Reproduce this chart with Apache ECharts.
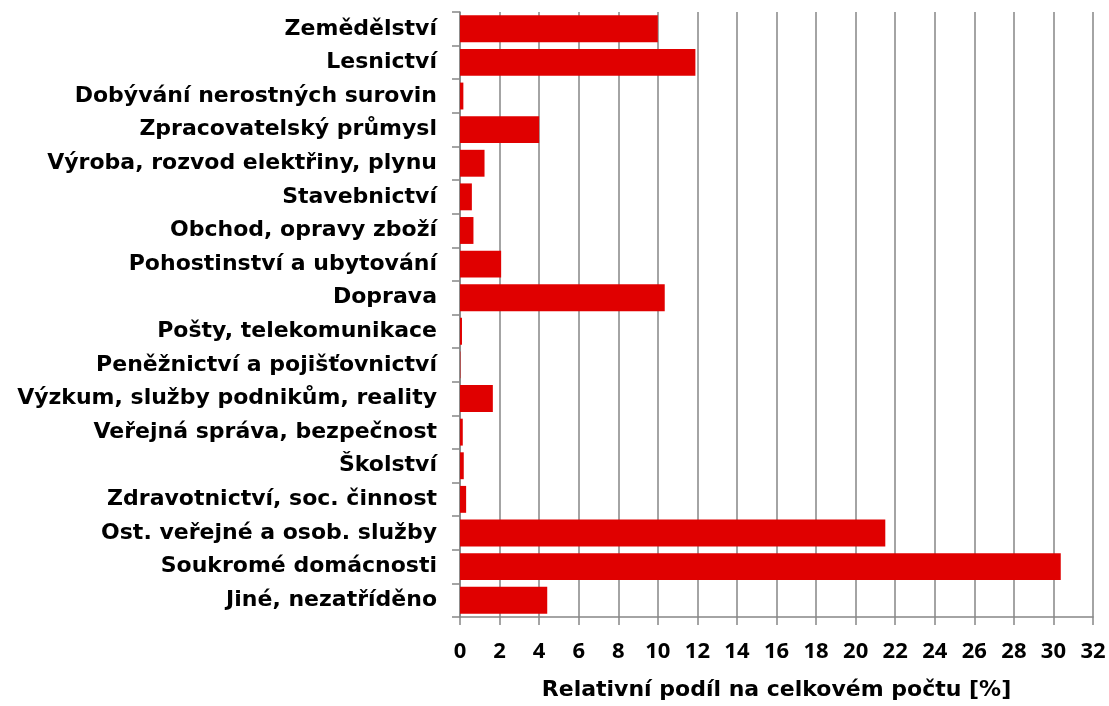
<!DOCTYPE html>
<html>
<head>
<meta charset="utf-8">
<script src="https://cdn.jsdelivr.net/npm/echarts@6/dist/echarts.min.js"></script>
<style>html,body{margin:0;padding:0;background:#fff}#c{width:1109px;height:706px}</style>
</head>
<body>
<div id="c"></div>
<script>
const categories = [
  "Zemědělství",
  "Lesnictví",
  "Dobývání nerostných surovin",
  "Zpracovatelský průmysl",
  "Výroba, rozvod elektřiny, plynu",
  "Stavebnictví",
  "Obchod, opravy zboží",
  "Pohostinství a ubytování",
  "Doprava",
  "Pošty, telekomunikace",
  "Peněžnictví a pojišťovnictví",
  "Výzkum, služby podnikům, reality",
  "Veřejná správa, bezpečnost",
  "Školství",
  "Zdravotnictví, soc. činnost",
  "Ost. veřejné a osob. služby",
  "Soukromé domácnosti",
  "Jiné, nezatříděno"
];
const values = [10.0, 11.9, 0.17, 4.0, 1.24, 0.6, 0.68, 2.08, 10.35, 0.1, 0.02, 1.66, 0.14, 0.19, 0.31, 21.5, 30.37, 4.41];
const axisTitle = "Relativní podíl na celkovém počtu [%]";

const chart = echarts.init(document.getElementById('c'), null, {renderer: 'canvas'});
chart.setOption({
  animation: false,
  backgroundColor: '#ffffff',
  grid: {left: 460, right: 16, top: 12, bottom: 89, containLabel: false, outerBoundsMode: 'none'},
  xAxis: {
    type: 'value', min: 0, max: 32, interval: 2,
    name: axisTitle, nameLocation: 'middle', nameGap: 62, nameMoveOverlap: false,
    nameTextStyle: {fontFamily: 'DejaVu Sans', fontWeight: 'bold', fontSize: 22, color: '#000'},
    axisLine: {show: true, lineStyle: {color: '#868686', width: 1.5}},
    axisTick: {show: true, length: 8, lineStyle: {color: '#868686', width: 1.5}},
    axisLabel: {margin: 24, fontFamily: 'Open Sans', fontWeight: 'bold', fontSize: 22, color: '#000', hideOverlap: false},
    splitLine: {show: true, lineStyle: {color: '#868686', width: 1.5}}
  },
  yAxis: {
    type: 'category', data: categories, inverse: true,
    axisLine: {show: true, lineStyle: {color: '#868686', width: 1.5}},
    axisTick: {show: true, length: 8, alignWithLabel: false, lineStyle: {color: '#868686', width: 1.5}},
    axisLabel: {margin: 23, fontFamily: 'DejaVu Sans', fontWeight: 'bold', fontSize: 22, color: '#000'},
    splitLine: {show: false}
  },
  series: [{
    type: 'bar', data: values, barCategoryGap: '20%',
    itemStyle: {color: '#E00000'}
  }]
});
</script>
</body>
</html>
